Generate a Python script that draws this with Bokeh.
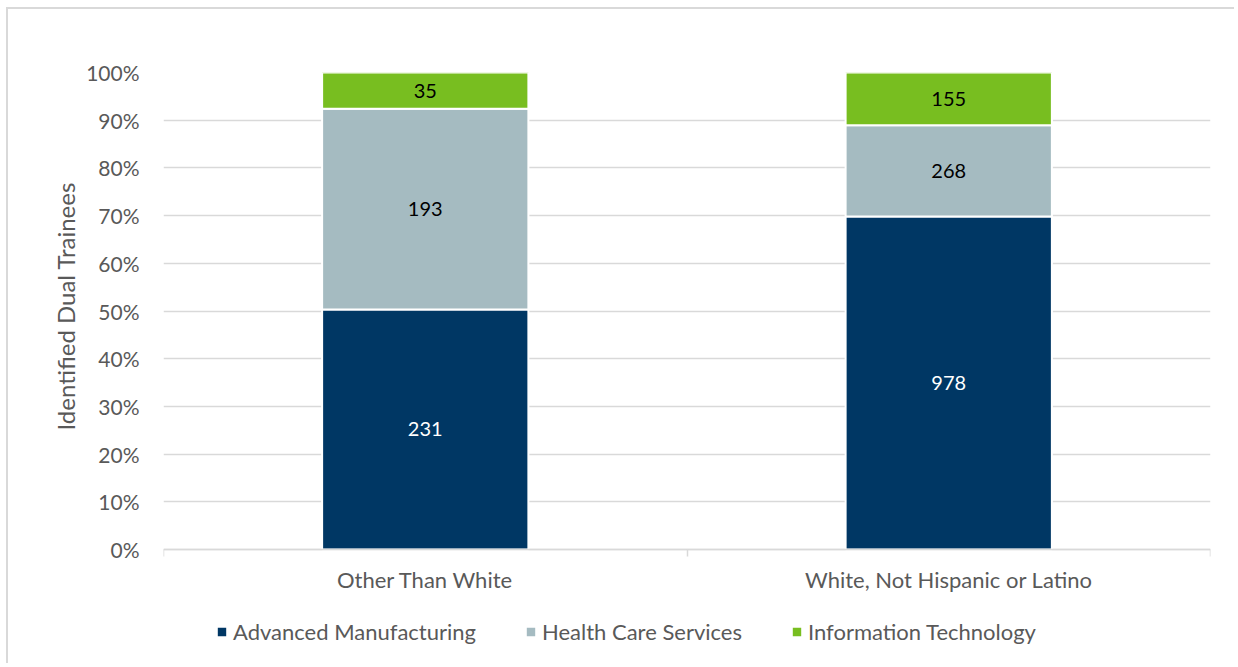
from bokeh.plotting import figure
from bokeh.models import ColumnDataSource, FixedTicker, Legend, LegendItem, NumeralTickFormatter, Range1d, Title
from bokeh.embed import file_html
from bokeh.resources import INLINE
from bokeh.core.properties import value

categories = ["Other Than White", "White, Not Hispanic or Latino"]
series = ["Advanced Manufacturing", "Health Care Services", "Information Technology"]
advanced_manufacturing = [231, 978]
health_care_services = [193, 268]
information_technology = [35, 155]
colors = ["#003764", "#a5bbc1", "#78be20"]
label_colors = ["white", "black", "black"]
y_ticks = [0, 0.1, 0.2, 0.3, 0.4, 0.5, 0.6, 0.7, 0.8, 0.9, 1.0]

FONT = "Lato"
GRAY = "#595959"

values = [advanced_manufacturing, health_care_services, information_technology]
totals = [sum(v[i] for v in values) for i in range(len(categories))]
xs = [i + 0.5 for i in range(len(categories))]

W, H = 1228, 656
p = figure(width=W, height=H, output_backend="svg", toolbar_location=None,
           x_range=Range1d(0, len(categories)), y_range=Range1d(-0.2222, 1),
           min_border_left=155, min_border_right=26, min_border_top=63, min_border_bottom=10)
p.styles = {"border-left": "2px solid #d9d9d9", "border-top": "2px solid #d9d9d9",
            "margin-left": "6px", "margin-top": "7px"}
p.outline_line_color = None
p.background_fill_color = "white"

bottoms = [0.0] * len(categories)
renderers = []
for k, (name, vals) in enumerate(zip(series, values)):
    fr = [v / t for v, t in zip(vals, totals)]
    tops = [b + f for b, f in zip(bottoms, fr)]
    src = ColumnDataSource(dict(x=xs, bottom=bottoms, top=tops, mid=[(b + t) / 2 for b, t in zip(bottoms, tops)],
                                lab=[str(v) for v in vals]))
    r = p.vbar(x="x", bottom="bottom", top="top", width=0.394, source=src,
               fill_color=colors[k], line_color="white", line_width=2)
    renderers.append(r)
    p.text(x="x", y="mid", text="lab", source=src, text_align="center", text_baseline="middle",
           text_font=value(FONT), text_font_size="20px", text_color=label_colors[k])
    bottoms = tops

# y axis
p.yaxis.ticker = FixedTicker(ticks=y_ticks)
p.yaxis.formatter = NumeralTickFormatter(format="0%")
p.yaxis.axis_line_color = None
p.yaxis.major_tick_line_color = None
p.yaxis.minor_tick_line_color = None
p.yaxis.major_label_text_font = FONT
p.yaxis.major_label_text_font_size = "21px"
p.yaxis.major_label_text_color = GRAY
p.yaxis.major_label_standoff = 18

ylabel = Title(text="Identified Dual Trainees", align="left", offset=225, vertical_align="middle",
               text_font=FONT, text_font_size="24px", text_font_style="normal", text_color=GRAY,
               standoff=6)
p.add_layout(ylabel, "left")

p.ygrid.ticker = FixedTicker(ticks=y_ticks)
p.ygrid.grid_line_color = "#d9d9d9"
p.ygrid.grid_line_width = 1.5
p.xgrid.grid_line_color = None

# x axis (fixed at 0 so the legend can sit inside the frame below it)
p.xaxis.fixed_location = 0
p.xaxis.ticker = FixedTicker(ticks=xs, minor_ticks=list(range(len(categories) + 1)))
p.xaxis.major_label_overrides = {x: c for x, c in zip(xs, categories)}
p.xaxis.major_tick_line_color = None
p.xaxis.minor_tick_line_color = "#d9d9d9"
p.xaxis.minor_tick_line_width = 1.5
p.xaxis.minor_tick_in = 0
p.xaxis.minor_tick_out = 7
p.xaxis.axis_line_color = "#d9d9d9"
p.xaxis.axis_line_width = 1.5
p.xaxis.major_label_text_font = FONT
p.xaxis.major_label_text_font_size = "22px"
p.xaxis.major_label_text_color = GRAY
p.xaxis.major_label_standoff = 9

legend = Legend(items=[LegendItem(label=s, renderers=[r]) for s, r in zip(series, renderers)],
                orientation="horizontal", location=(52, 10),
                glyph_width=13, glyph_height=13, label_standoff=5, spacing=48,
                label_text_font=FONT, label_text_font_size="22px", label_text_color=GRAY,
                border_line_color=None, background_fill_alpha=0, margin=0, padding=0)
p.add_layout(legend, "center")

open("out.html", "w").write(file_html(p, INLINE))
